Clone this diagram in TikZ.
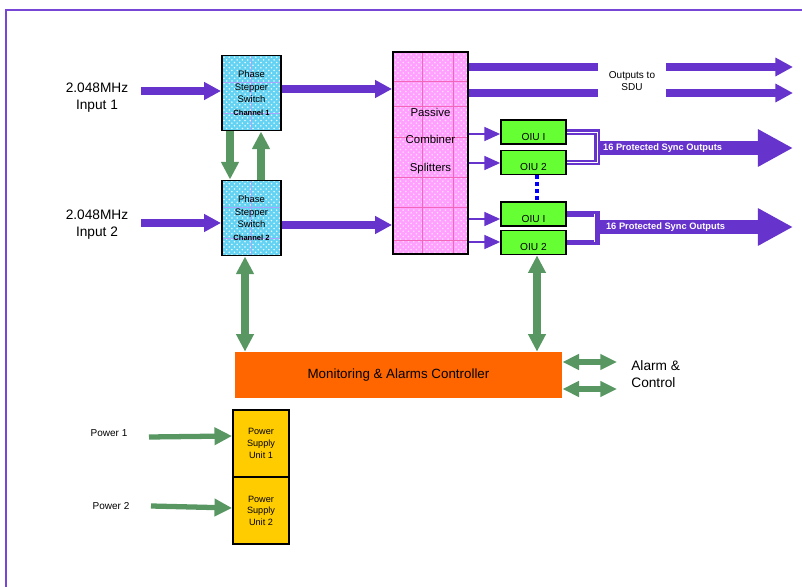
\documentclass[tikz,border=0pt]{standalone}
\usepackage{fontspec}
\setmainfont{Liberation Sans}
\usetikzlibrary{arrows.meta}
\usetikzlibrary{patterns}
\usetikzlibrary{calc}
\definecolor{sigpurple}{RGB}{102,51,204}
\definecolor{framepurple}{RGB}{120,70,215}
\definecolor{ctrlgreen}{RGB}{88,150,98}
\definecolor{psscyan}{RGB}{100,210,242}
\definecolor{combpink}{RGB}{255,160,255}
\definecolor{oiugreen}{RGB}{102,255,51}
\definecolor{monorange}{RGB}{255,102,0}
\definecolor{psuyellow}{RGB}{255,204,0}
\tikzset{
blockbox/.style={draw=black, line width=1.1pt, inner sep=0pt, align=center},
pssbox/.style={blockbox, minimum width=1.18cm, minimum height=1.5cm,
  preaction={fill=psscyan},
  preaction={pattern=crosshatch dots, pattern color=white!85!psscyan},
  path picture={
    \draw[blue!35, line width=0.3pt] (path picture bounding box.north) -- (path picture bounding box.south);
    \foreach \f in {0.36,0.77}
      \draw[blue!35, line width=0.3pt] ($(path picture bounding box.north west)!\f!(path picture bounding box.south west)$) -- ($(path picture bounding box.north east)!\f!(path picture bounding box.south east)$);
  },
  font=\fontsize{5.4}{7.2}\selectfont},
combbox/.style={blockbox, minimum width=1.5cm, minimum height=4.04cm,
  preaction={fill=combpink},
  preaction={pattern=crosshatch dots, pattern color=white!65!combpink},
  path picture={
    \foreach \f in {0.39,0.81}
      \draw[magenta!60, line width=0.3pt] ($(path picture bounding box.north west)!\f!(path picture bounding box.north east)$) -- ($(path picture bounding box.south west)!\f!(path picture bounding box.south east)$);
    \foreach \f in {0.144,0.27,0.42,0.62,0.77,0.93}
      \draw[magenta!60, line width=0.3pt] ($(path picture bounding box.north west)!\f!(path picture bounding box.south west)$) -- ($(path picture bounding box.north east)!\f!(path picture bounding box.south east)$);
  }},
combtext/.style={align=center, inner sep=0pt, font=\fontsize{6.5}{15.6}\selectfont},
oiubox/.style={draw=black, line width=1pt, fill=oiugreen, minimum width=1.3cm, minimum height=0.48cm,
  inner sep=0pt, text height=9.2pt, text depth=0pt, font=\fontsize{5.8}{7}\selectfont},
monbox/.style={fill=monorange, minimum width=6.54cm, minimum height=0.92cm, inner sep=0pt,
  font=\fontsize{7.6}{9}\selectfont},
psubox/.style={blockbox, fill=psuyellow, minimum width=1.12cm, minimum height=1.34cm,
  font=\fontsize{5.2}{6.6}\selectfont},
biglabel/.style={align=center, inner sep=0pt, font=\fontsize{7.8}{9.8}\selectfont},
smalllabel/.style={align=center, inner sep=0pt, font=\fontsize{5.7}{6.8}\selectfont},
synclabel/.style={text=white, inner sep=0pt, font=\bfseries\fontsize{5.3}{6}\selectfont},
fatarrow/.style={sigpurple, line width=4pt, -{Triangle[length=9.6pt,width=9.6pt]}},
sduline/.style={sigpurple, line width=4pt},
sduarrow/.style={sduline, -{Triangle[length=10pt,width=10pt]}},
thinarrow/.style={sigpurple, line width=0.9pt, -{Triangle[length=9pt,width=8pt]}},
bigarrow/.style={sigpurple, line width=8.5pt, -{Triangle[length=20pt,width=20pt]}},
bracketline/.style={sigpurple, line width=3.4pt},
garrow/.style={ctrlgreen, line width=4pt, -{Triangle[length=10pt,width=9.6pt]}},
garrowboth/.style={ctrlgreen, line width=4pt, {Triangle[length=10pt,width=9.6pt]}-{Triangle[length=10pt,width=9.6pt]}},
alarmarrow/.style={ctrlgreen, line width=3pt, {Triangle[length=9.5pt,width=8.5pt]}-{Triangle[length=9.5pt,width=8.5pt]}},
psuarrow/.style={ctrlgreen, line width=3pt, -{Triangle[length=10pt,width=9.6pt]}},
oiudots/.style={blue, line width=1.8pt, dash pattern=on 2pt off 2pt}
}

\begin{document}
\begin{tikzpicture}[x=0.02cm, y=-0.02cm]
    \useasboundingbox (0,0) rectangle (802,587);
    \draw[framepurple, line width=1.2pt] (6,587) -- (6,10) -- (802,10);

    % blocks
    \node[pssbox] (pss1) at (251.5,93) {Phase\\Stepper\\Switch\\{\bfseries\fontsize{4.3}{7.2}\selectfont Channel 1}};
    \node[pssbox] (pss2) at (251.5,218) {Phase\\Stepper\\Switch\\{\bfseries\fontsize{4.3}{7.2}\selectfont Channel 2}};
    \node[combbox] (comb) at (430.5,153) {};
    \node[combtext] (combtxt) at (430.5,141) {Passive\\Combiner\\Splitters};
    \node[oiubox] (oiu1a) at (533.5,132) {OIU I};
    \node[oiubox] (oiu2a) at (533.5,162.5) {OIU 2};
    \node[oiubox] (oiu1b) at (533.5,214) {OIU I};
    \node[oiubox] (oiu2b) at (533.5,242.5) {OIU 2};
    \node[monbox] (mon) at (398.5,375) {Monitoring \& Alarms Controller};
    \node[psubox] (psu1) at (261,443.5) {Power\\Supply\\Unit 1};
    \node[psubox] (psu2) at (261,510.5) {Power\\Supply\\Unit 2};

    % labels
    \node[biglabel] (lin1) at (97,97.5) {2.048MHz\\Input 1};
    \node[biglabel] (lin2) at (97,225) {2.048MHz\\Input 2};
    \node[smalllabel, inner xsep=6pt] (lsdu) at (632,81) {Outputs to\\SDU};
    \node[biglabel, align=left, anchor=west] (lalarm) at (631,374) {Alarm \&\\Control};
    \node[smalllabel] (lpw1) at (109,433) {Power 1};
    \node[smalllabel] (lpw2) at (111,506) {Power 2};

    \coordinate (in1) at (141,91);
    \coordinate (in2) at (141,223);
    \coordinate (pw1) at (149,437);
    \coordinate (pw2) at (151,506);
    \coordinate (sduend1) at (793,67);
    \coordinate (sduend2) at (793,93);
    \coordinate (sync1) at (600,148);
    \coordinate (sync1end) at (793,148);
    \coordinate (sync2) at (600,227);
    \coordinate (sync2end) at (793,227);
    \coordinate (alc1) at (617,362);
    \coordinate (alc2) at (617,389);

    % signal path
    \draw[fatarrow] (in1) -- (in1 -| pss1.west);
    \draw[fatarrow] (in2) -- (in2 -| pss2.west);
    \draw[fatarrow] (pss1.east |- 0,89) -- (comb.west |- 0,89);
    \draw[fatarrow] (pss2.east |- 0,225) -- (comb.west |- 0,225);
    \draw[sduline] (comb.east |- sduend1) -- (lsdu.west |- sduend1);
    \draw[sduarrow] (lsdu.east |- sduend1) -- (sduend1);
    \draw[sduline] (comb.east |- sduend2) -- (lsdu.west |- sduend2);
    \draw[sduarrow] (lsdu.east |- sduend2) -- (sduend2);
    \draw[thinarrow] (comb.east |- 0,134) -- (oiu1a.west |- 0,134);
    \draw[thinarrow] (comb.east |- 0,163) -- (oiu2a.west |- 0,163);
    \draw[thinarrow] (comb.east |- 0,219) -- (oiu1b.west |- 0,219);
    \draw[thinarrow] (comb.east |- 0,242) -- (oiu2b.west |- 0,242);
    \draw[oiudots] (537,0 |- oiu2a.south) -- (537,0 |- oiu1b.north);

    % protected outputs
    \draw[bracketline] (oiu1a.east) -- (597,0 |- oiu1a.east) |- (oiu2a.east);
    \draw[white, line width=0.4pt] (oiu1a.east) -- (597,0 |- oiu1a.east) |- (oiu2a.east);
    \draw[bracketline] (oiu1b.east) -- (597,0 |- oiu1b.east) |- (oiu2b.east);
    \draw[white, line width=0.4pt] (594,214) -- (594,242);
    \draw[bigarrow] (sync1) -- (sync1end) node[synclabel, pos=0, anchor=west, xshift=-2.5pt] {16 Protected Sync Outputs};
    \draw[bigarrow] (sync2) -- (sync2end) node[synclabel, pos=0, anchor=west, xshift=-0.8pt] {16 Protected Sync Outputs};

    % control
    \draw[garrow] (230,0 |- pss1.south) -- (230,0 |- pss2.north);
    \draw[garrow] (261,0 |- pss2.north) -- (261,0 |- pss1.south);
    \draw[garrowboth] (245,0 |- pss2.south) -- (245,0 |- mon.north);
    \draw[garrowboth] (537,0 |- oiu2b.south) -- (537,0 |- mon.north);
    \draw[alarmarrow] (mon.east |- alc1) -- (alc1);
    \draw[alarmarrow] (mon.east |- alc2) -- (alc2);
    \draw[psuarrow] (pw1) -- (psu1.west |- 0,436);
    \draw[psuarrow] (pw2) -- (psu2.west |- 0,508);
\end{tikzpicture}
\end{document}
